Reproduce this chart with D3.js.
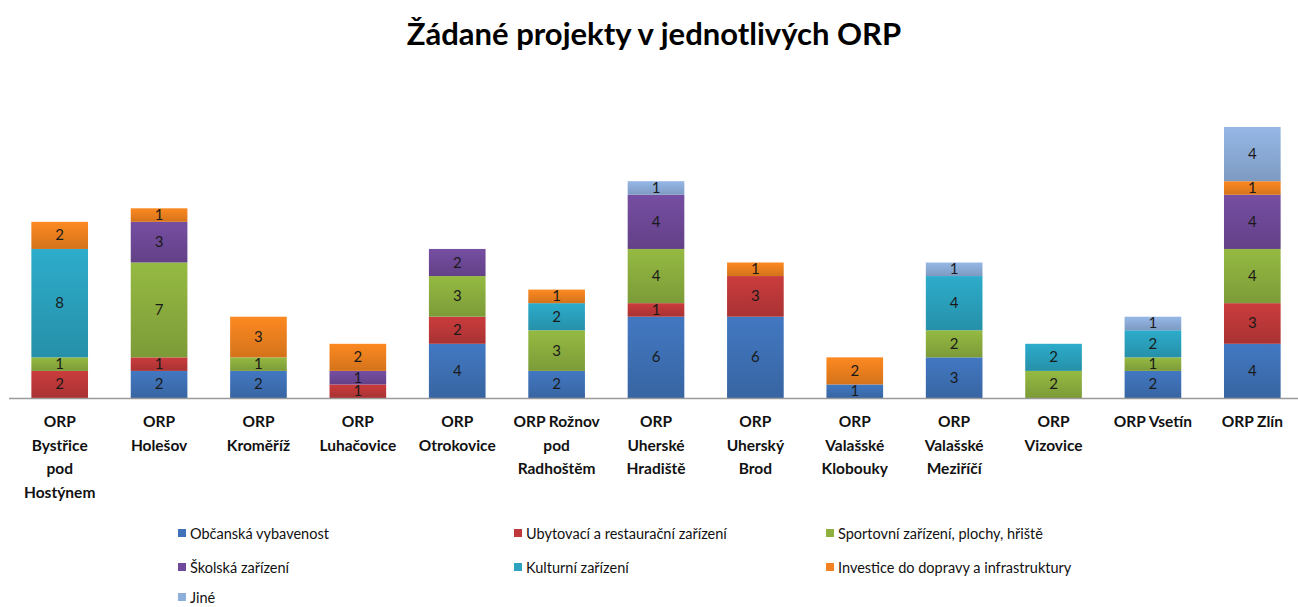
<!DOCTYPE html>
<html>
<head>
<meta charset="utf-8">
<script src="https://cdn.jsdelivr.net/npm/d3@7"></script>
<style>
  body { margin: 0; background: #fff; }
  text { font-family: Lato, "Open Sans", sans-serif; }
</style>
</head>
<body>
<div id="chart"></div>
<script>
// categories (ORP) and their label lines
const categories = ["Bystřice", "Holešov", "Kroměříž", "Luhačovice", "Otrokovice", "Rožnov",
    "Uherské Hradiště", "Uherský Brod", "Valašské Klobouky", "Valašské Meziříčí", "Vizovice", "Vsetín", "Zlín"];
const tickLabels = [
    ["ORP", "Bystřice", "pod", "Hostýnem"],
    ["ORP", "Holešov"],
    ["ORP", "Kroměříž"],
    ["ORP", "Luhačovice"],
    ["ORP", "Otrokovice"],
    ["ORP Rožnov", "pod", "Radhoštěm"],
    ["ORP", "Uherské", "Hradiště"],
    ["ORP", "Uherský", "Brod"],
    ["ORP", "Valašské", "Klobouky"],
    ["ORP", "Valašské", "Meziříčí"],
    ["ORP", "Vizovice"],
    ["ORP Vsetín"],
    ["ORP Zlín"]
];
const seriesNames = ["Občanská vybavenost", "Ubytovací a restaurační zařízení", "Sportovní zařízení, plochy, hřiště",
    "Školská zařízení", "Kulturní zařízení", "Investice do dopravy a infrastruktury", "Jiné"];
const seriesColors = ["#3f72b8", "#c0393a", "#8db03f", "#704a9a", "#2ba3c0", "#f0821f", "#8eaedb"];

// values per series, one per category
const obcanska   = [0, 2, 2, 0, 4, 2, 6, 6, 1, 3, 0, 2, 4];
const ubytovaci  = [2, 1, 0, 1, 2, 0, 1, 3, 0, 0, 0, 0, 3];
const sportovni  = [1, 7, 1, 0, 3, 3, 4, 0, 0, 2, 2, 1, 4];
const skolska    = [0, 3, 0, 1, 2, 0, 4, 0, 0, 0, 0, 0, 4];
const kulturni   = [8, 0, 0, 0, 0, 2, 0, 0, 0, 4, 2, 2, 0];
const investice  = [2, 1, 3, 2, 0, 1, 0, 1, 2, 0, 0, 0, 1];
const jine       = [0, 0, 0, 0, 0, 0, 1, 0, 0, 1, 0, 1, 4];
const seriesValues = [obcanska, ubytovaci, sportovni, skolska, kulturni, investice, jine];

const width = 1298;
const height = 607;
const baseline = 398;

const svg = d3.select("#chart").append("svg")
    .attr("width", width)
    .attr("height", height);

// title
svg.append("text")
    .attr("x", 654)
    .attr("y", 45)
    .attr("text-anchor", "middle")
    .style("font-size", "31px")
    .style("font-weight", "bold")
    .attr("fill", "#000")
    .text("Žádané projekty v jednotlivých ORP");

const rows = categories.map((c, i) => {
    const r = { cat: c };
    seriesNames.forEach((s, j) => r[s] = seriesValues[j][i]);
    return r;
});
const stacked = d3.stack().keys(seriesNames)(rows);

const x = d3.scaleBand()
    .domain(categories)
    .range([10, 1302])
    .paddingInner(0.43)
    .paddingOuter(0.215);

const y = d3.scaleLinear()
    .domain([0, 20])
    .range([baseline, 127]);

// gradients like excel bars
const defs = svg.append("defs");
seriesColors.forEach((c, i) => {
    const g = defs.append("linearGradient")
        .attr("id", "grad" + i)
        .attr("x1", 0).attr("y1", 0).attr("x2", 0).attr("y2", 1);
    g.append("stop").attr("offset", "0%").attr("stop-color", d3.color(c).brighter(0.15));
    g.append("stop").attr("offset", "100%").attr("stop-color", d3.color(c).darker(0.35));
});

const layer = svg.selectAll("g.layer")
    .data(stacked)
    .enter()
    .append("g")
    .attr("class", "layer");

layer.selectAll("rect")
    .data((d, i) => d.map(p => ({ p: p, i: i })))
    .enter()
    .filter(d => d.p[1] - d.p[0] > 0)
    .append("rect")
    .attr("x", d => x(d.p.data.cat))
    .attr("width", x.bandwidth())
    .attr("y", d => y(d.p[1]))
    .attr("height", d => y(d.p[0]) - y(d.p[1]))
    .attr("fill", d => "url(#grad" + d.i + ")");

layer.selectAll("text")
    .data((d, i) => d.map(p => ({ p: p, i: i })))
    .enter()
    .filter(d => d.p[1] - d.p[0] > 0)
    .append("text")
    .attr("x", d => x(d.p.data.cat) + x.bandwidth() / 2)
    .attr("y", d => (y(d.p[0]) + y(d.p[1])) / 2 + 5)
    .attr("text-anchor", "middle")
    .style("font-size", "15px")
    .attr("fill", "#1a1a1a")
    .text(d => d.p[1] - d.p[0]);

// baseline axis
svg.append("line")
    .attr("x1", 9).attr("x2", width)
    .attr("y1", baseline + 0.5).attr("y2", baseline + 0.5)
    .attr("stroke", "#9a9a9a")
    .attr("stroke-width", 1.5);

// category labels
const labels = svg.selectAll("text.cat")
    .data(categories)
    .enter()
    .append("text")
    .attr("class", "cat")
    .attr("text-anchor", "middle")
    .style("font-size", "15.5px")
    .style("font-weight", "bold")
    .attr("fill", "#111");
labels.each(function (c, i) {
    const t = d3.select(this);
    tickLabels[i].forEach((line, k) => {
        t.append("tspan")
            .attr("x", x(c) + x.bandwidth() / 2)
            .attr("y", 427 + k * 23.5)
            .text(line);
    });
});

// legend
const legendPos = [[178, 539], [514, 539], [826, 539], [178, 573], [514, 573], [826, 573], [178, 603]];
const legend = svg.selectAll("g.legend")
    .data(seriesNames)
    .enter()
    .append("g")
    .attr("class", "legend")
    .attr("transform", (d, i) => `translate(${legendPos[i][0]},${legendPos[i][1]})`);
legend.append("rect")
    .attr("x", 0).attr("y", -10)
    .attr("width", 8).attr("height", 8)
    .attr("fill", (d, i) => seriesColors[i]);
legend.append("text")
    .attr("x", 12)
    .attr("y", 0)
    .style("font-size", "14.5px")
    .attr("fill", "#111")
    .text(d => d);
</script>
</body>
</html>
